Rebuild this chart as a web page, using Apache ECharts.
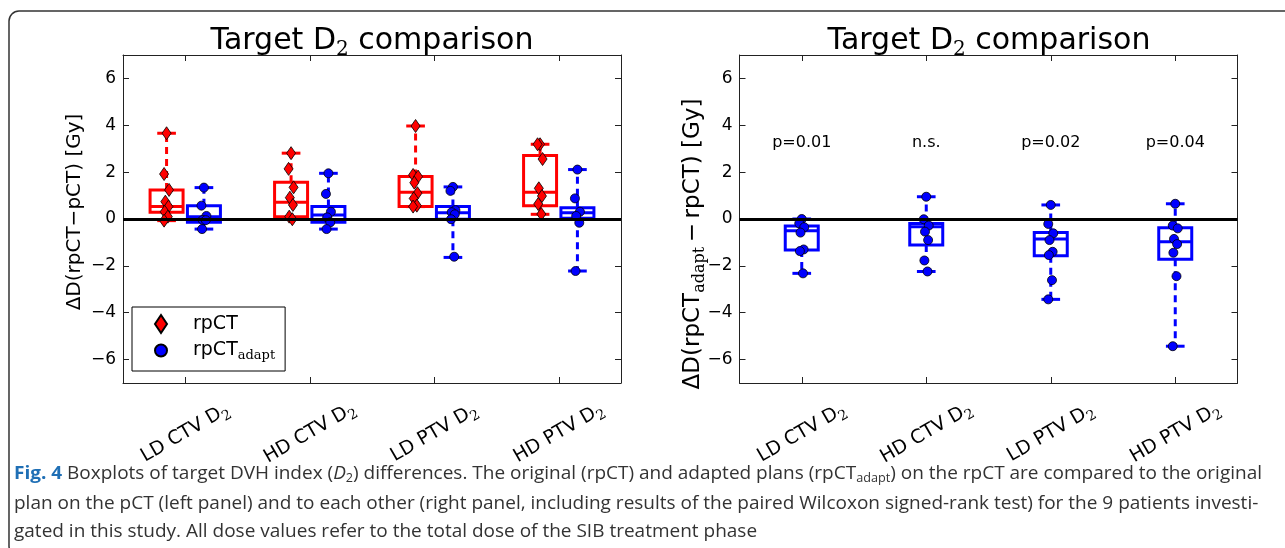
<!DOCTYPE html>
<html>
<head>
<meta charset="utf-8">
<script src="https://cdn.jsdelivr.net/npm/echarts@6/dist/echarts.min.js"></script>
<style>
  html, body { margin: 0; padding: 0; background: #fff; }
  #chart { width: 1285px; height: 548px; }
</style>
</head>
<body>
<div id="chart"></div>
<script>
// categories and tick labels
const CATEGORIES = ["LD CTV", "HD CTV", "LD PTV", "HD PTV"];
const Y_TICKS = [-6, -4, -2, 0, 2, 4, 6];
const P_LABELS = ["p=0.01", "n.s.", "p=0.02", "p=0.04"];

// left panel: rpCT - pCT (red diamonds)
const LEFT_RPCT_POINTS = [
  [3.66, 1.92, 1.24, 0.74, 0.53, 0.31, 0.10, -0.07],
  [2.81, 2.14, 1.35, 0.91, 0.60, 0.10, -0.01],
  [3.97, 1.88, 1.81, 1.55, 1.10, 0.88, 0.57, 0.53],
  [3.19, 3.19, 2.56, 1.31, 0.98, 0.64, 0.21],
];
// box stats: [min, q1, median, q3, max]
const LEFT_RPCT_BOX = [
  [-0.07, 0.29, 0.53, 1.24, 3.66],
  [-0.01, 0.10, 0.71, 1.57, 2.81],
  [0.53, 0.53, 1.14, 1.81, 3.97],
  [0.20, 0.57, 1.14, 2.71, 3.19],
];
// left panel: rpCT_adapt - pCT (blue circles)
const LEFT_ADAPT_POINTS = [
  [1.34, 0.57, 0.13, -0.04, -0.05, -0.43],
  [1.95, 1.07, 0.31, 0.07, -0.14, -0.43],
  [1.37, 1.20, 0.38, 0.29, 0.20, -0.01, -1.61],
  [2.11, 0.88, 0.31, 0.13, -0.16, -2.22],
];
const LEFT_ADAPT_BOX = [
  [-0.43, -0.14, 0.10, 0.57, 1.34],
  [-0.43, -0.14, 0.17, 0.53, 1.95],
  [-1.64, -0.01, 0.27, 0.53, 1.37],
  [-2.22, 0.03, 0.27, 0.48, 2.11],
];
// right panel: rpCT_adapt - rpCT
const RIGHT_POINTS = [
  [0.0, -0.19, -0.35, -0.58, -1.30, -1.37, -2.32],
  [0.95, -0.01, -0.28, -0.54, -0.90, -1.77, -2.24],
  [0.60, -0.21, -0.61, -0.90, -1.40, -1.54, -2.61, -3.43],
  [0.65, -0.28, -0.40, -0.85, -1.07, -1.44, -2.44, -5.43],
];
const RIGHT_BOX = [
  [-2.32, -1.32, -0.50, -0.30, 0.0],
  [-2.24, -1.11, -0.33, -0.19, 0.95],
  [-3.43, -1.57, -0.85, -0.58, 0.60],
  [-5.43, -1.72, -0.97, -0.37, 0.65],
];

const RED = "#ff0000";
const BLUE = "#0000ff";
const BOX_W = 0.265;
const CAP_W = 0.15;
const JITTER = [0, -0.02, 0.02, -0.01, 0.015, -0.015, 0.01, -0.02, 0.02];
const P_LABEL_Y = 3.23;

function xAxisFor(grid, top) {
  return {
    type: "value",
    gridIndex: grid,
    min: 0.5,
    max: 4.5,
    position: top ? "top" : "bottom",
    splitLine: { show: false },
    axisLine: { show: true, onZero: false, lineStyle: { color: "#222", width: 1 } },
    axisTick: { show: true, inside: true, length: 6, customValues: [1, 2, 3, 4], lineStyle: { color: "#222" } },
    axisLabel: top ? { show: false } : {
      show: true,
      customValues: [1, 2, 3, 4],
      rotate: 30,
      align: "center",
      verticalAlign: "middle",
      margin: 50,
      fontFamily: "DejaVu Sans",
      fontSize: 19,
      color: "#000",
      formatter: (v) => CATEGORIES[Math.round(v) - 1] + " D{sub|2}",
      rich: {
        sub: { fontFamily: "DejaVu Serif", fontSize: 14, color: "#000", verticalAlign: "bottom", padding: [12, 0, 0, 0] },
      },
    },
  };
}

function yAxisFor(grid, right) {
  return {
    type: "value",
    gridIndex: grid,
    min: -7,
    max: 7,
    position: right ? "right" : "left",
    splitLine: { show: false },
    axisLine: { show: true, onZero: false, lineStyle: { color: "#222", width: 1 } },
    axisTick: { show: true, inside: true, length: 6, customValues: Y_TICKS, lineStyle: { color: "#222" } },
    axisLabel: right ? { show: false } : {
      show: true,
      customValues: Y_TICKS,
      margin: 7,
      fontFamily: "DejaVu Sans",
      fontSize: 17,
      color: "#000",
      formatter: (v) => String(v).replace("-", "\u2212"),
    },
  };
}

function boxSeries(name, grid, stats, offset, color, zeroLine) {
  const s = {
    name: name,
    type: "custom",
    xAxisIndex: grid * 2,
    yAxisIndex: grid * 2,
    z: 2,
    silent: true,
    data: stats.map((b, i) => [i + 1 + offset].concat(b)),
    encode: { x: 0, y: [1, 2, 3, 4, 5] },
    renderItem: (params, api) => {
      const x = api.value(0);
      const half = api.size([BOX_W, 0])[0] / 2;
      const capHalf = api.size([CAP_W, 0])[0] / 2;
      const cx = api.coord([x, 0])[0];
      const y = (i) => api.coord([x, api.value(i)])[1];
      const yLo = y(1), yQ1 = y(2), yMed = y(3), yQ3 = y(4), yHi = y(5);
      const solid = { stroke: color, lineWidth: 3, fill: null };
      const dashed = { stroke: color, lineWidth: 3, lineDash: [7, 5], fill: null };
      return {
        type: "group",
        children: [
          { type: "line", shape: { x1: cx, y1: yQ3, x2: cx, y2: yHi }, style: dashed },
          { type: "line", shape: { x1: cx, y1: yQ1, x2: cx, y2: yLo }, style: dashed },
          { type: "line", shape: { x1: cx - capHalf, y1: yHi, x2: cx + capHalf, y2: yHi }, style: solid },
          { type: "line", shape: { x1: cx - capHalf, y1: yLo, x2: cx + capHalf, y2: yLo }, style: solid },
          { type: "rect", shape: { x: cx - half, y: yQ3, width: half * 2, height: yQ1 - yQ3 }, style: { stroke: color, lineWidth: 3, fill: "none" } },
          { type: "line", shape: { x1: cx - half, y1: yMed, x2: cx + half, y2: yMed }, style: solid },
        ],
      };
    },
  };
  if (zeroLine) {
    s.markLine = {
      silent: true,
      symbol: "none",
      label: { show: false },
      lineStyle: { color: "#000", width: 3, type: "solid" },
      data: [{ yAxis: 0 }],
    };
  }
  return s;
}

function pointSeries(name, grid, groups, offset, symbol, size, color) {
  const data = [];
  groups.forEach((vals, g) => {
    vals.forEach((v, i) => data.push([g + 1 + offset + JITTER[i % JITTER.length], v]));
  });
  return {
    name: name,
    type: "scatter",
    xAxisIndex: grid * 2,
    yAxisIndex: grid * 2,
    z: 4,
    symbol: symbol,
    symbolSize: size,
    data: data,
    itemStyle: { color: color, borderColor: "#000", borderWidth: 0.8, opacity: 1 },
    emphasis: { disabled: true },
  };
}

// caption lines as [text, style] segments
const CAPTION = [
  [["Fig. 4", "b"], [" Boxplots of target DVH index (", ""], ["D", "i"], ["2", "s"],
   [") differences. The original (rpCT) and adapted plans (rpCT", ""], ["adapt", "s"],
   [") on the rpCT are compared to the original", ""]],
  [["plan on the pCT (left panel) and to each other (right panel, including results of the paired Wilcoxon signed-rank test) for the 9 patients investi-", ""]],
  [["gated in this study. All dose values refer to the total dose of the SIB treatment phase", ""]],
];
const CAP_FONT = "Open Sans";
const CAP_SIZE = 18;
const ctx = document.createElement("canvas").getContext("2d");
function segFont(st) {
  if (st === "b") return "bold " + CAP_SIZE + "px '" + CAP_FONT + "'";
  if (st === "i") return "italic " + CAP_SIZE + "px '" + CAP_FONT + "'";
  if (st === "s") return "12px '" + CAP_FONT + "'";
  return CAP_SIZE + "px '" + CAP_FONT + "'";
}
function lineWidth(segs) {
  let w = 0;
  segs.forEach(([t, st]) => { ctx.font = segFont(st); w += ctx.measureText(t).width; });
  return w;
}
const capScale = 1248 / lineWidth(CAPTION[0]);
const capRich = {
  b: { fontFamily: CAP_FONT, fontSize: CAP_SIZE, fontWeight: "bold", fill: "#1f6fb5" },
  i: { fontFamily: CAP_FONT, fontSize: CAP_SIZE, fontStyle: "italic", fill: "#333" },
  s: { fontFamily: CAP_FONT, fontSize: 12, fill: "#333", verticalAlign: "bottom", padding: [9, 0, 0, 0] },
};
const CAP_Y = [474, 504, 532];
const captionGraphics = CAPTION.map((segs, k) => ({
  type: "text",
  x: 14,
  y: CAP_Y[k],
  scaleX: capScale,
  style: {
    text: segs.map(([t, st]) => (st ? "{" + st + "|" + t + "}" : t)).join(""),
    fontFamily: CAP_FONT,
    fontSize: CAP_SIZE,
    fill: "#333",
    align: "left",
    verticalAlign: "middle",
    rich: capRich,
  },
}));

const titleRich = {
  sub: { fontFamily: "DejaVu Serif", fontSize: 20, fill: "#000", verticalAlign: "bottom", padding: [18, 0, 0, 0] },
};
const labelRich = {
  sub: { fontFamily: "DejaVu Serif", fontSize: 16, fill: "#000", verticalAlign: "bottom", padding: [13, 0, 0, 0] },
};

const chart = echarts.init(document.getElementById("chart"));
chart.setOption({
  animation: false,
  backgroundColor: "#fff",
  grid: [
    { left: 123, top: 55, width: 498, height: 328 },
    { left: 739.5, top: 55, width: 498, height: 328 },
  ],
  xAxis: [xAxisFor(0, false), xAxisFor(0, true), xAxisFor(1, false), xAxisFor(1, true)],
  yAxis: [yAxisFor(0, false), yAxisFor(0, true), yAxisFor(1, false), yAxisFor(1, true)],
  legend: {
    data: [{ name: "rpCT", icon: "diamond" }, { name: "rpCT_adapt", icon: "circle" }],
    orient: "vertical",
    left: 132,
    top: 307,
    itemWidth: 12,
    itemHeight: 18,
    itemGap: 7,
    padding: [7, 10, 9, 22],
    borderColor: "#000",
    borderWidth: 1,
    borderRadius: 0,
    backgroundColor: "#fff",
    selectedMode: false,
    formatter: (n) => (n === "rpCT" ? "{t|rpCT}" : "{t|rpCT}{sub|adapt}"),
    textStyle: {
      fontFamily: "DejaVu Sans",
      fontSize: 19,
      color: "#000",
      rich: {
        t: { fontFamily: "DejaVu Sans", fontSize: 19, color: "#000", padding: [0, 0, 0, 21] },
        sub: { fontFamily: "DejaVu Serif", fontSize: 13, color: "#000", verticalAlign: "bottom", padding: [10, 0, 0, 0] },
      },
    },
  },
  series: [
    boxSeries("rpCT box", 0, LEFT_RPCT_BOX, -0.15, RED, true),
    boxSeries("rpCT_adapt box", 0, LEFT_ADAPT_BOX, 0.15, BLUE, false),
    pointSeries("rpCT", 0, LEFT_RPCT_POINTS, -0.15, "diamond", [9, 13], RED),
    pointSeries("rpCT_adapt", 0, LEFT_ADAPT_POINTS, 0.15, "circle", 9, BLUE),
    boxSeries("adapt vs rpCT box", 1, RIGHT_BOX, 0, BLUE, true),
    pointSeries("rpCT_adapt", 1, RIGHT_POINTS, 0, "circle", 9, BLUE),
    {
      name: "p-values",
      type: "custom",
      xAxisIndex: 2,
      yAxisIndex: 2,
      silent: true,
      data: P_LABELS.map((p, i) => [i + 1, P_LABEL_Y]),
      renderItem: (params, api) => {
        const pt = api.coord([api.value(0), api.value(1)]);
        return {
          type: "text",
          x: pt[0],
          y: pt[1],
          style: {
            text: P_LABELS[params.dataIndex],
            fontFamily: "DejaVu Sans",
            fontSize: 16,
            fill: "#000",
            align: "center",
            verticalAlign: "middle",
          },
        };
      },
    },
  ],
  graphic: [
    {
      type: "rect",
      shape: { x: 9, y: 11, width: 1290, height: 545, r: 10 },
      style: { fill: "none", stroke: "#333", lineWidth: 1.5 },
      silent: true,
    },
    {
      type: "text", x: 372, y: 41,
      style: { text: "Target D{sub|2} comparison", fontFamily: "DejaVu Sans", fontSize: 30, fill: "#000", align: "center", verticalAlign: "middle", rich: titleRich },
    },
    {
      type: "text", x: 989, y: 41,
      style: { text: "Target D{sub|2} comparison", fontFamily: "DejaVu Sans", fontSize: 30, fill: "#000", align: "center", verticalAlign: "middle", rich: titleRich },
    },
    {
      type: "text", x: 75, y: 212, rotation: Math.PI / 2,
      style: { text: "\u0394D(rpCT\u2212pCT) [Gy]", fontFamily: "DejaVu Sans", fontSize: 20, fill: "#000", align: "center", verticalAlign: "middle" },
    },
    {
      type: "text", x: 693, y: 244, rotation: Math.PI / 2,
      style: { text: "\u0394D(rpCT{sub|adapt}\u2009\u2212\u2009rpCT) [Gy]", fontFamily: "DejaVu Sans", fontSize: 23, fill: "#000", align: "center", verticalAlign: "middle", rich: labelRich },
    },
  ].concat(captionGraphics),
});
</script>
</body>
</html>
